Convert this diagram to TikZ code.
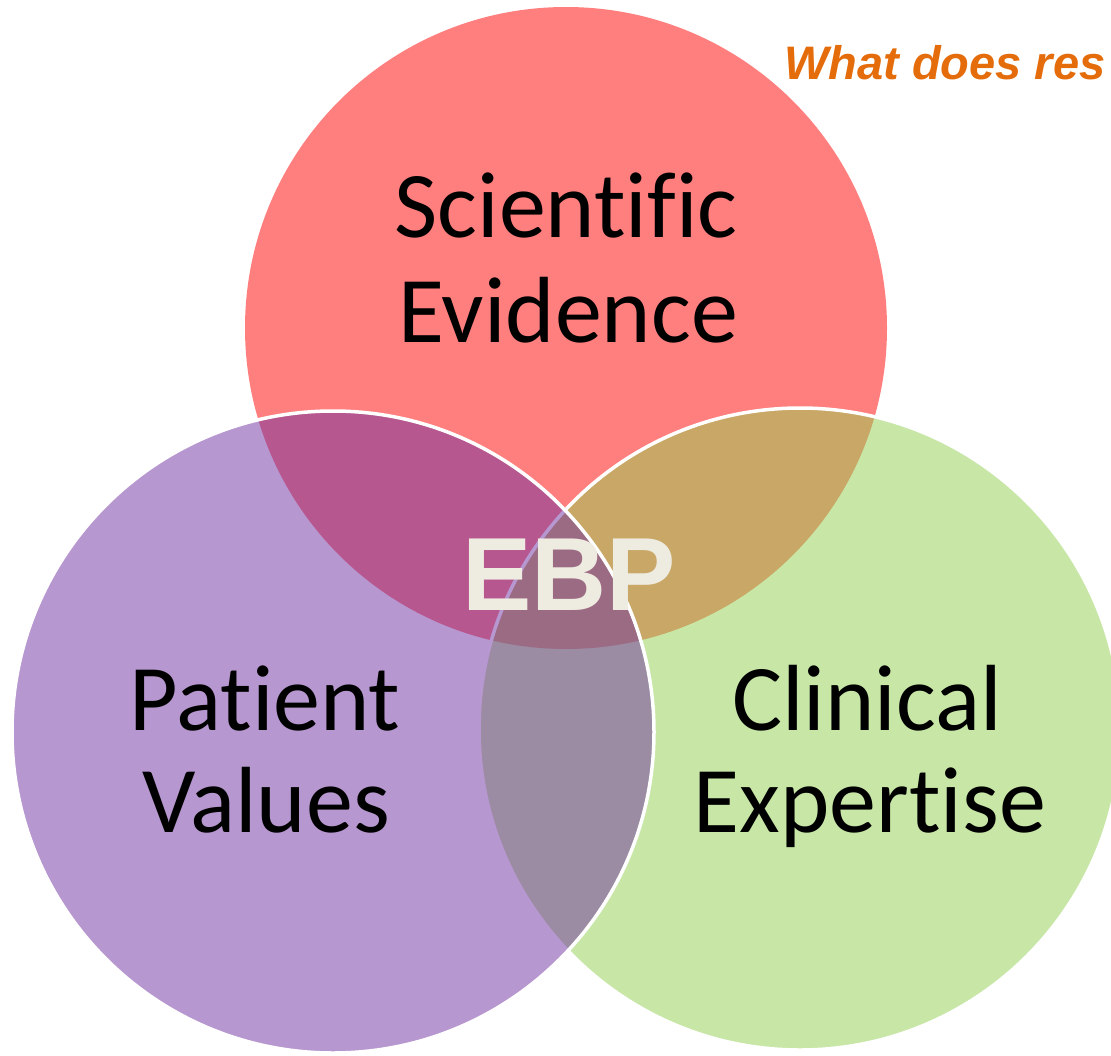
\documentclass[tikz,border=0pt]{standalone}
\usepackage{fontspec}
\newfontfamily\labelfont[Ligatures={NoCommon,NoContextual}]{Carlito}
\newfontfamily\arialfont{Liberation Sans}
\definecolor{setred}{HTML}{FF0000}
\definecolor{setgreen}{HTML}{92D050}
\definecolor{setpurple}{HTML}{7030A0}
\definecolor{ebpcream}{HTML}{EEEBE0}
\definecolor{titleorange}{HTML}{E46C0A}
\begin{document}
\begin{tikzpicture}[x=1pt,y=-1pt,
  setcircle/.style={fill opacity=0.5},
  setoutline/.style={draw=white,line width=3.5pt},
  setlabel/.style={anchor=base,inner sep=0pt,font=\labelfont\fontsize{94}{105}\selectfont,text=black},
  ebplabel/.style={anchor=base,inner sep=0pt,font=\arialfont\bfseries\fontsize{104}{110}\selectfont,text=ebpcream},
  titlelabel/.style={anchor=base west,inner sep=0pt,font=\arialfont\bfseries\itshape\fontsize{47}{50}\selectfont,text=titleorange}]
\useasboundingbox (0,0) rectangle (1111,1055);
\clip (0,0) rectangle (1111,1055);
\fill[white] (0,0) rectangle (1111,1055);
% circles
\fill[setcircle,fill=setred] (566,328) circle[radius=321pt];
\path[setcircle,fill=setgreen,setoutline] (800,729) circle[radius=321pt];
\path[setcircle,fill=setpurple,setoutline] (333,732) circle[radius=321pt];
% labels
\node[setlabel] (sci1) at (566,237) {Scientific};
\node[setlabel] (sci2) at (568,342) {Evidence};
\node[setlabel] (pat1) at (265,730) {Patient};
\node[setlabel] (pat2) at (266,832) {Values};
\node[setlabel] (cli1) at (867,730) {Clinical};
\node[setlabel] (cli2) at (870,832) {Expertise};
\node[ebplabel] (ebp) at (569,610) {EBP};
\node[titlelabel] (title) at (784,79) {What does res};
\end{tikzpicture}
\end{document}
